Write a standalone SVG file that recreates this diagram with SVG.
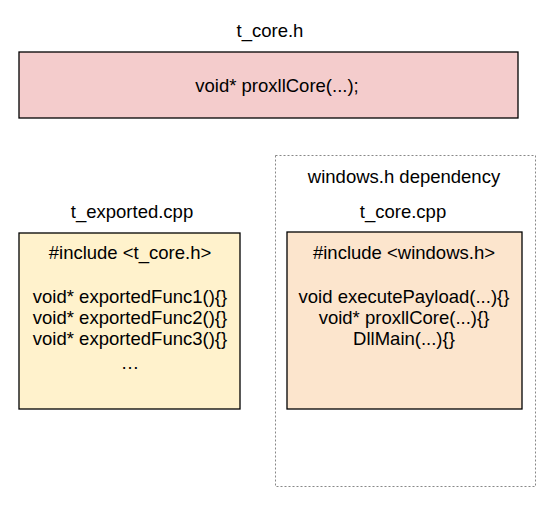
<svg xmlns="http://www.w3.org/2000/svg" width="556" height="505" viewBox="0 0 556 505">
<style>
text{font-family:"Liberation Sans",Arial,sans-serif;font-size:18.5px;fill:#000;text-anchor:middle}
.box{stroke:#000;stroke-width:1.3}
</style>
<rect width="556" height="505" fill="#fff"/>
<g id="group-windows">
<rect x="275.5" y="155.5" width="260" height="331" fill="none" stroke="#888" stroke-width="1" stroke-dasharray="2,2"/>
<text x="404" y="183">windows.h dependency</text>
</g>
<g id="t_core_h">
<text x="270" y="37">t_core.h</text>
<rect class="box" x="19" y="52" width="499" height="66" fill="#f4cccc"/>
<text x="277" y="92">void* proxllCore(...);</text>
</g>
<g id="t_exported_cpp">
<text x="132" y="218">t_exported.cpp</text>
<rect class="box" x="19" y="233" width="221" height="176" fill="#fff2cc"/>
<text x="130" y="259">#include &lt;t_core.h&gt;</text>
<text x="130" y="303">void* exportedFunc1(){}</text>
<text x="130" y="324">void* exportedFunc2(){}</text>
<text x="130" y="345">void* exportedFunc3(){}</text>
<text x="130" y="369">…</text>
</g>
<g id="t_core_cpp">
<text x="403" y="218">t_core.cpp</text>
<rect class="box" x="287" y="232" width="235" height="177" fill="#fce5cd"/>
<text x="404" y="259">#include &lt;windows.h&gt;</text>
<text x="404" y="303">void executePayload(...){}</text>
<text x="404" y="324">void* proxllCore(...){}</text>
<text x="404" y="345">DllMain(...){}</text>
</g>
<g id="connectors"></g>
</svg>
